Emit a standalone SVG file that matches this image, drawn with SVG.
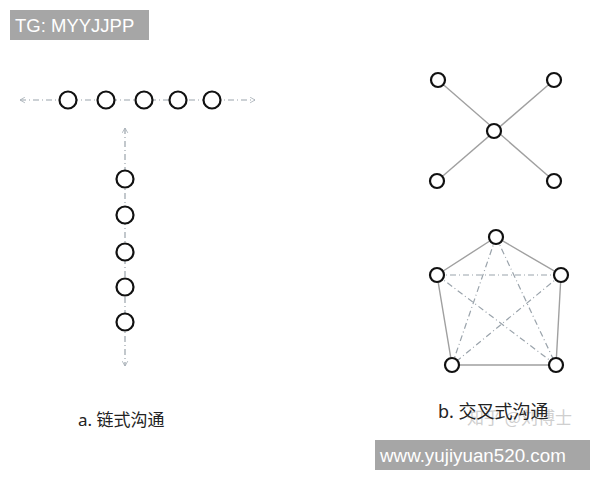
<svg xmlns="http://www.w3.org/2000/svg" width="600" height="480" viewBox="0 0 600 480">
<style>
.node{fill:#fff;stroke:#111;stroke-width:2.2}
.dash{stroke:#9aa3ab;stroke-width:1.2;stroke-dasharray:6 3 1 3;fill:none}
.solid{stroke:#a0a0a0;stroke-width:1.4;fill:none}
.lbl{font-family:"Noto Sans","Noto Sans CJK SC",sans-serif;font-size:17px;fill:#222}
.box{fill:#a6a6a6}
.boxt{font-family:"Liberation Sans",Arial,sans-serif;fill:#fff}
</style>
<defs>
<marker id="arr" viewBox="0 0 10 10" refX="9" refY="5" markerWidth="7" markerHeight="7" orient="auto-start-reverse" markerUnits="userSpaceOnUse">
<path d="M2,1 L9,5 L2,9" fill="none" stroke="#a8b0b8" stroke-width="1.2"/>
</marker>
</defs>
<rect width="600" height="480" fill="#fff"/>
<g id="connectors">
<line class="dash" x1="20" y1="100" x2="255" y2="100" marker-start="url(#arr)" marker-end="url(#arr)"/>
<line class="dash" x1="125" y1="128" x2="125" y2="366" marker-start="url(#arr)" marker-end="url(#arr)"/>
<line class="solid" x1="438" y1="80" x2="554" y2="181"/>
<line class="solid" x1="554" y1="80" x2="437" y2="181"/>
<polygon class="solid" points="496,237 561,275 556,365 452,365 437,275"/>
<line class="dash" x1="437" y1="275" x2="561" y2="275"/>
<line class="dash" x1="496" y1="237" x2="452" y2="365"/>
<line class="dash" x1="496" y1="237" x2="556" y2="365"/>
<line class="dash" x1="437" y1="275" x2="556" y2="365"/>
<line class="dash" x1="561" y1="275" x2="452" y2="365"/>
</g>
<g id="chain-h">
<circle class="node" cx="68" cy="100" r="8.5"/>
<circle class="node" cx="106" cy="100" r="8.5"/>
<circle class="node" cx="144" cy="100" r="8.5"/>
<circle class="node" cx="178" cy="100" r="8.5"/>
<circle class="node" cx="212" cy="100" r="8.5"/>
</g>
<g id="chain-v">
<circle class="node" cx="125" cy="179" r="8.5"/>
<circle class="node" cx="125" cy="215" r="8.5"/>
<circle class="node" cx="125" cy="252" r="8.5"/>
<circle class="node" cx="125" cy="287" r="8.5"/>
<circle class="node" cx="125" cy="322" r="8.5"/>
</g>
<g id="x-net">
<circle class="node" cx="438" cy="80" r="7"/>
<circle class="node" cx="554" cy="80" r="7"/>
<circle class="node" cx="494" cy="131" r="7"/>
<circle class="node" cx="437" cy="181" r="7"/>
<circle class="node" cx="554" cy="181" r="7"/>
</g>
<g id="pentagon">
<circle class="node" cx="496" cy="237" r="7"/>
<circle class="node" cx="437" cy="275" r="7"/>
<circle class="node" cx="561" cy="275" r="7"/>
<circle class="node" cx="452" cy="365" r="7"/>
<circle class="node" cx="556" cy="365" r="7"/>
</g>
<g id="labels">
<text class="lbl" x="78" y="426">a. 链式沟通</text>
<text x="467" y="424" style="font-family:'Noto Sans CJK SC',sans-serif;font-size:17px;fill:#cfcfcf">知乎 @刘博士</text>
<text class="lbl" x="438" y="418" style="font-size:18px">b. 交叉式沟通</text>
</g>
<g id="tg">
<rect class="box" x="10" y="10" width="139" height="30"/>
<text class="boxt" x="15" y="32" font-size="18.5">TG: MYYJJPP</text>
</g>
<g id="url">
<rect class="box" x="375" y="440" width="215" height="30"/>
<text class="boxt" x="380" y="462" font-size="18.8">www.yujiyuan520.com</text>
</g>
</svg>
